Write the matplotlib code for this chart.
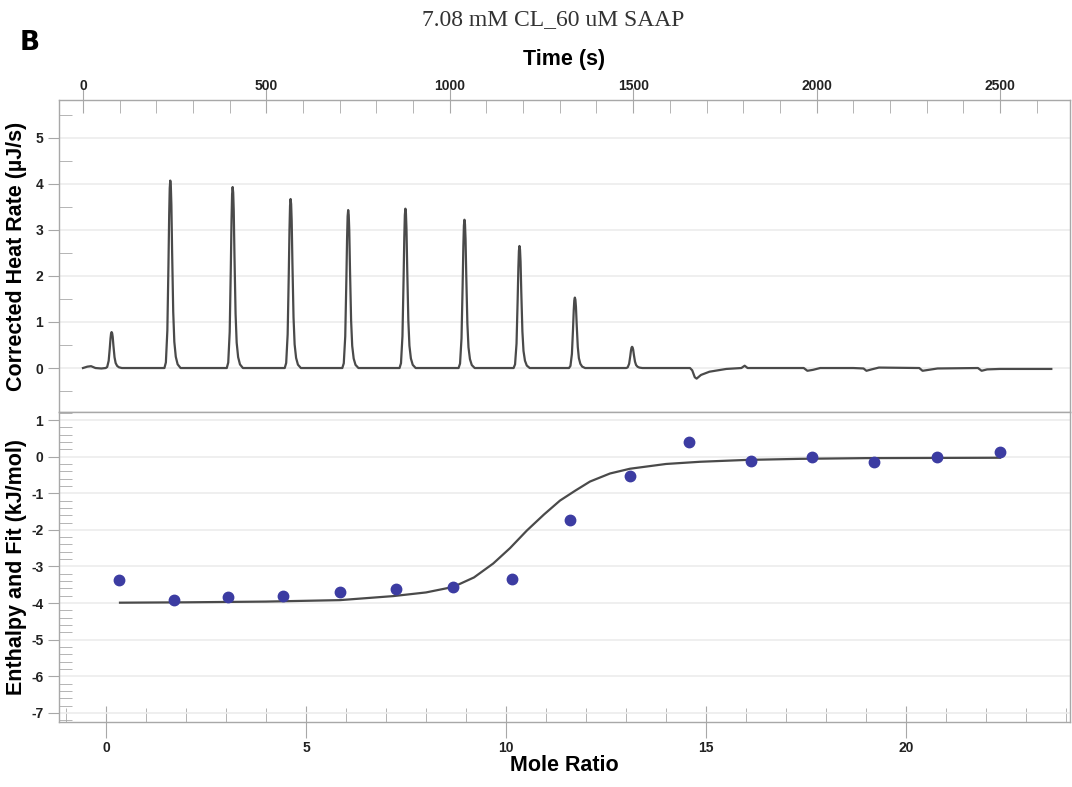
import numpy as np
import matplotlib
matplotlib.use("Agg")
from matplotlib import pyplot as plt
from matplotlib.ticker import MultipleLocator

# thermogram: injection peaks (apex time s, height uJ/s)
peak_times = [78, 238, 408, 566, 723, 879, 1040, 1190, 1341, 1497]
peak_heights = [0.78, 4.07, 3.93, 3.67, 3.43, 3.46, 3.22, 2.65, 1.53, 0.46]
# peak shape (offset from apex s, fraction of height)
shape_dt = [-16, -12, -8, -5, -3, -1.5, 0, 1.5, 3, 5, 8, 11, 15, 20, 28]
shape_frac = [0.0, 0.03, 0.2, 0.55, 0.82, 0.96, 1.0, 0.97, 0.87, 0.62, 0.3, 0.14, 0.06, 0.02, 0.0]
# baseline points, incl. the small dips after saturation
base_t = [0, 12, 22, 34, 50, 1560, 1620, 1655, 1661, 1668, 1673, 1685, 1708, 1754,
          1795, 1804, 1812, 1900, 1965, 1975, 1990, 2010, 2100, 2128, 2136, 2150,
          2170, 2260, 2280, 2289, 2305, 2330, 2420, 2440, 2450, 2465, 2500, 2640]
base_q = [0.0, 0.03, 0.04, 0.0, -0.01, 0.0, 0.0, 0.0, -0.05, -0.2, -0.23, -0.15, -0.08, -0.02,
          0.0, 0.05, 0.0, 0.0, 0.0, -0.06, -0.04, 0.0, 0.0, -0.01, -0.06, -0.03,
          0.01, 0.0, 0.0, -0.06, -0.04, -0.01, 0.0, 0.0, -0.06, -0.03, -0.02, -0.02]

# integrated heats
mole_ratio = [0.33, 1.7, 3.05, 4.43, 5.85, 7.25, 8.68, 10.15, 11.6, 13.1,
              14.58, 16.13, 17.65, 19.2, 20.78, 22.35]
enthalpy = [-3.38, -3.92, -3.84, -3.81, -3.71, -3.62, -3.57, -3.33, -1.72, -0.54,
            0.41, -0.11, 0.0, -0.14, 0.0, 0.14]
fit_x = [0.35, 2, 4, 5.85, 7.18, 8.0, 8.68, 9.2, 9.68, 10.1, 10.52, 10.95, 11.35,
         11.73, 12.1, 12.6, 13.1, 14, 14.85, 16, 17.35, 19, 22.35]
fit_y = [-3.99, -3.98, -3.96, -3.92, -3.81, -3.71, -3.56, -3.3, -2.92, -2.5, -2.02,
         -1.58, -1.2, -0.93, -0.68, -0.46, -0.33, -0.2, -0.14, -0.09, -0.06, -0.04, -0.03]

# build the trace from the read points
t_pts = list(base_t)
q_pts = list(base_q)
for tp, h in zip(peak_times, peak_heights):
    for dt, f in zip(shape_dt, shape_frac):
        t_pts.append(tp + dt)
        q_pts.append(h * f)
order = np.argsort(t_pts)
trace_t = np.array(t_pts)[order]
trace_q = np.array(q_pts)[order]

W, H = 1072, 787
fig = plt.figure(figsize=(W / 100, H / 100), dpi=100)
L, R = 58.6 / W, 1070 / W
ax1 = fig.add_axes([L, 1 - 412 / H, R - L, (412 - 100) / H])
ax2 = fig.add_axes([L, 1 - 722 / H, R - L, (722 - 412) / H])

spine_c = '#a8a8a8'
tick_font = dict(family='Liberation Sans', weight='bold', size=10)
lab_font = dict(family='Liberation Sans', weight='bold', size=15.5)

for ax in (ax1, ax2):
    for s in ax.spines.values():
        s.set_color(spine_c)
        s.set_linewidth(1.0)
    ax.set_axisbelow(True)
    ax.yaxis.grid(True, which='major', color='#ececec', lw=1.2)
    ax.tick_params(axis='y', which='major', direction='out', length=8, color=spine_c,
                   labelcolor='#222222', pad=3)
    ax.tick_params(axis='y', which='minor', direction='in', length=9, color=spine_c)

# top panel
ax1.plot(trace_t, trace_q, color='#4a4a4a', lw=1.6)
ax1.set_xlim(-66.5, 2691)
ax1.set_ylim(-0.955, 5.82)
ax1.yaxis.set_minor_locator(MultipleLocator(0.5))
ax1.xaxis.set_minor_locator(MultipleLocator(100))
ax1.xaxis.tick_top()
ax1.xaxis.set_label_position('top')
ax1.tick_params(axis='x', which='major', direction='inout', length=18, color=spine_c,
                labelcolor='#222222', pad=-4)
ax1.tick_params(axis='x', which='minor', direction='in', length=9, color=spine_c)
ax1.set_yticks(np.arange(0, 6, 1))
ax1.set_yticklabels([str(v) for v in range(0, 6)], **tick_font)
ax1.set_xticks(np.arange(0, 3000, 500))
ax1.set_xticklabels([str(v) for v in range(0, 3000, 500)], **tick_font)
ax1.set_xlabel('Time (s)', labelpad=10, **lab_font)
ax1.set_ylabel('Corrected Heat Rate (\u00b5J/s)', **lab_font)

# bottom panel
ax2.plot(fit_x, fit_y, color='#4a4a4a', lw=1.6, zorder=2)
ax2.plot(mole_ratio, enthalpy, 'o', color='#3c3ca2', ms=7.5, mec='#3c3ca2', zorder=3)
ax2.set_xlim(-1.185, 24.1)
ax2.set_ylim(-7.25, 1.22)
ax2.set_yticks(np.arange(-7, 2, 1))
ax2.set_yticklabels([str(v) for v in range(-7, 2)], **tick_font)
ax2.yaxis.set_minor_locator(MultipleLocator(0.2))
ax2.set_xticks(np.arange(0, 25, 5))
ax2.set_xticklabels([str(v) for v in range(0, 25, 5)], **tick_font)
ax2.xaxis.set_minor_locator(MultipleLocator(1))
ax2.tick_params(axis='x', which='major', direction='inout', length=23, color=spine_c,
                labelcolor='#222222', pad=2)
ax2.tick_params(axis='x', which='minor', direction='in', length=10, color=spine_c)
ax2.set_xlabel('Mole Ratio', labelpad=0, **lab_font)
ax2.set_ylabel('Enthalpy and Fit (kJ/mol)', **lab_font)

ax1.yaxis.set_label_coords(-0.031, 0.5)
ax2.yaxis.set_label_coords(-0.031, 0.5)

fig.text(553 / W, 1 - 20 / H, '7.08 mM CL_60 uM SAAP', ha='center', va='center',
         family='Liberation Serif', size=17, color='#333333')
fig.text(30 / W, 1 - 43 / H, 'B', ha='center', va='center', family='DejaVu Sans',
         weight='bold', size=19)

fig.savefig('out.png', dpi=100)
